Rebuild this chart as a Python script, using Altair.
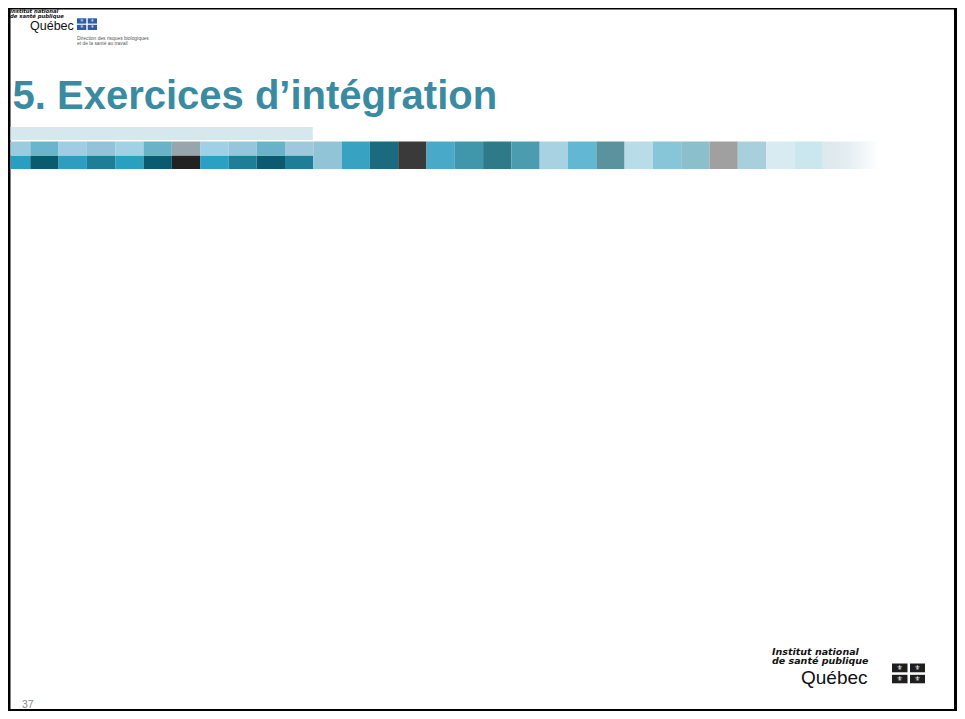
import altair as alt
import pandas as pd

# ---------------- content ----------------
TITLE = "5. Exercices d’intégration"
PAGE_NUMBER = "37"
LOGO_TOP_LINES = ["Institut national", "de santé publique"]
LOGO_TOP_CITY = "Québec"
LOGO_TOP_DIRECTION = ["Direction des risques biologiques", "et de la santé au travail"]
LOGO_BOTTOM_LINES = ["Institut national", "de santé publique"]
LOGO_BOTTOM_CITY = "Québec"
FLEUR = "⚜"

PALE_BAND_COLOR = "#d6e7ee"
MID_ROW_COLORS = ["#9ccbe0", "#6ab4cc", "#a0cde3", "#94c2d8", "#a2d0e4", "#6ab2c8",
                  "#97a6ad", "#a0d0e6", "#96c6dc", "#6ab2ca", "#a0c8dc"]
BOTTOM_ROW_COLORS = ["#2a9ec0", "#0a5a70", "#2d9ec0", "#1e7e98", "#2aa0c0", "#0a5a72",
                     "#222222", "#2ca0c4", "#1e7e98", "#0c5a72", "#1e7e98"]
TALL_COLORS = ["#90c4d6", "#38a2c2", "#1a6a80", "#3a3a3a", "#48aac8", "#4096aa",
               "#2f7a88", "#4c9cb0", "#a8d2e2", "#62b8d2", "#5a929e", "#b8dce8",
               "#86c6d8", "#8cbfcc", "#a0a0a0", "#a8d0dc", "#d8eaf2", "#cae6ef"]
FADE_STOPS = ["#dde8ec", "#e4eef2", "#ffffff"]

TITLE_COLOR = "#3a8ba2"
TOP_FLAG_COLOR = "#2a5caa"
BOTTOM_FLAG_COLOR = "#1e1e1e"

# ---------------- layout (pixel space of the slide) ----------------
PAGE_W, PAGE_H, MARGIN = 965, 719, 8
W, H = PAGE_W - 2 * MARGIN, PAGE_H - 2 * MARGIN
X_END, Y_END = MARGIN + W, MARGIN + H
XS = alt.Scale(domain=[MARGIN, X_END], range=[0, W], nice=False, zero=False)
YS = alt.Scale(domain=[MARGIN, Y_END], range=[0, H], nice=False, zero=False)

CELL_X0, CELL_W = 2.0, 28.3


def rect_layer(rows, **mark):
    df = pd.DataFrame(rows, columns=["x0", "x1", "y0", "y1", "color"])
    return alt.Chart(df).mark_rect(**mark).encode(
        x=alt.X("x0:Q", scale=XS, axis=None),
        x2="x1:Q",
        y=alt.Y("y0:Q", scale=YS, axis=None),
        y2="y1:Q",
        color=alt.Color("color:N", scale=None),
    )


def text_layer(rows, **mark):
    df = pd.DataFrame(rows, columns=["x", "y", "text"])
    return alt.Chart(df).mark_text(**mark).encode(
        x=alt.X("x:Q", scale=XS, axis=None),
        y=alt.Y("y:Q", scale=YS, axis=None),
        text="text:N",
    )


layers = []

# frame
layers.append(rect_layer([
    [MARGIN, X_END, MARGIN, MARGIN + 1.5, "#000000"],
    [MARGIN, MARGIN + 2.5, MARGIN, Y_END, "#000000"],
    [X_END - 3, X_END, MARGIN, Y_END, "#000000"],
    [MARGIN, X_END, Y_END - 2, Y_END, "#000000"],
]))

# colour strip
n_left = len(MID_ROW_COLORS)
strip = [[MARGIN + 2.5, CELL_X0 + n_left * CELL_W - 0.6, 127, 140, PALE_BAND_COLOR]]
for k, (cm, cb) in enumerate(zip(MID_ROW_COLORS, BOTTOM_ROW_COLORS)):
    xa = max(CELL_X0 + k * CELL_W, MARGIN + 2.5)
    xb = CELL_X0 + (k + 1) * CELL_W
    strip.append([xa, xb, 141.5, 155, cm])
    strip.append([xa, xb, 155.5, 169, cb])
for j, c in enumerate(TALL_COLORS):
    k = n_left + j
    strip.append([CELL_X0 + k * CELL_W, CELL_X0 + (k + 1) * CELL_W, 141.5, 169, c])
layers.append(rect_layer(strip))

k_fade = n_left + len(TALL_COLORS)
fade = alt.LinearGradient(
    gradient="linear", x1=0, x2=1, y1=0, y2=0,
    stops=[alt.GradientStop(color=FADE_STOPS[0], offset=0),
           alt.GradientStop(color=FADE_STOPS[1], offset=0.45),
           alt.GradientStop(color=FADE_STOPS[2], offset=1)],
)
fade_df = pd.DataFrame([[CELL_X0 + k_fade * CELL_W, CELL_X0 + (k_fade + 2) * CELL_W, 141.5, 169]],
                       columns=["x0", "x1", "y0", "y1"])
layers.append(alt.Chart(fade_df).mark_rect(color=fade).encode(
    x=alt.X("x0:Q", scale=XS, axis=None), x2="x1:Q",
    y=alt.Y("y0:Q", scale=YS, axis=None), y2="y1:Q"))

# title
layers.append(text_layer([[12.5, 109, TITLE]], align="left", baseline="alphabetic",
                         font="Liberation Sans", fontSize=40, fontWeight="bold", color=TITLE_COLOR))

# top-left logo
layers.append(text_layer([[10, 12.5, LOGO_TOP_LINES[0]], [10, 17.5, LOGO_TOP_LINES[1]]],
                         align="left", baseline="alphabetic", font="DejaVu Sans", fontSize=5.3,
                         fontWeight="bold", fontStyle="italic", color="#111111"))
layers.append(text_layer([[30, 30, LOGO_TOP_CITY]], align="left", baseline="alphabetic",
                         font="Liberation Sans", fontSize=12.5, color="#111111"))
layers.append(text_layer([[77, 39.5, LOGO_TOP_DIRECTION[0]], [77, 44.5, LOGO_TOP_DIRECTION[1]]],
                         align="left", baseline="alphabetic", font="Liberation Sans", fontSize=4.9,
                         color="#555555"))
top_flag = [[77, 86.3, 18.3, 23.6, TOP_FLAG_COLOR], [87.7, 97, 18.3, 23.6, TOP_FLAG_COLOR],
            [77, 86.3, 24.8, 30, TOP_FLAG_COLOR], [87.7, 97, 24.8, 30, TOP_FLAG_COLOR]]
layers.append(rect_layer(top_flag))
layers.append(text_layer([[(r[0] + r[1]) / 2, (r[2] + r[3]) / 2, FLEUR] for r in top_flag],
                         align="center", baseline="middle", font="DejaVu Sans", fontSize=4.5,
                         color="#ffffff"))

# bottom-right logo
layers.append(text_layer([[772, 654.5, LOGO_BOTTOM_LINES[0]], [772, 664, LOGO_BOTTOM_LINES[1]]],
                         align="left", baseline="alphabetic", font="DejaVu Sans", fontSize=9.5,
                         fontWeight="bold", fontStyle="italic", color="#111111"))
layers.append(text_layer([[801, 683.5, LOGO_BOTTOM_CITY]], align="left", baseline="alphabetic",
                         font="Liberation Sans", fontSize=19, color="#111111"))
bot_flag = [[892, 907.5, 663.5, 672.3, BOTTOM_FLAG_COLOR], [910, 925, 663.5, 672.3, BOTTOM_FLAG_COLOR],
            [892, 907.5, 674.8, 683.3, BOTTOM_FLAG_COLOR], [910, 925, 674.8, 683.3, BOTTOM_FLAG_COLOR]]
layers.append(rect_layer(bot_flag))
layers.append(text_layer([[(r[0] + r[1]) / 2, (r[2] + r[3]) / 2, FLEUR] for r in bot_flag],
                         align="center", baseline="middle", font="DejaVu Sans", fontSize=7,
                         color="#ffffff"))

# page number
layers.append(text_layer([[22, 707.5, PAGE_NUMBER]], align="left", baseline="alphabetic",
                         font="Liberation Sans", fontSize=10.5, color="#8a8a8a"))

chart = alt.layer(*layers).properties(
    width=W, height=H, padding=0, autosize="none", background="#ffffff"
).configure_view(stroke=None)

chart.save("out.html", embed_options={"renderer": "svg", "actions": False})
